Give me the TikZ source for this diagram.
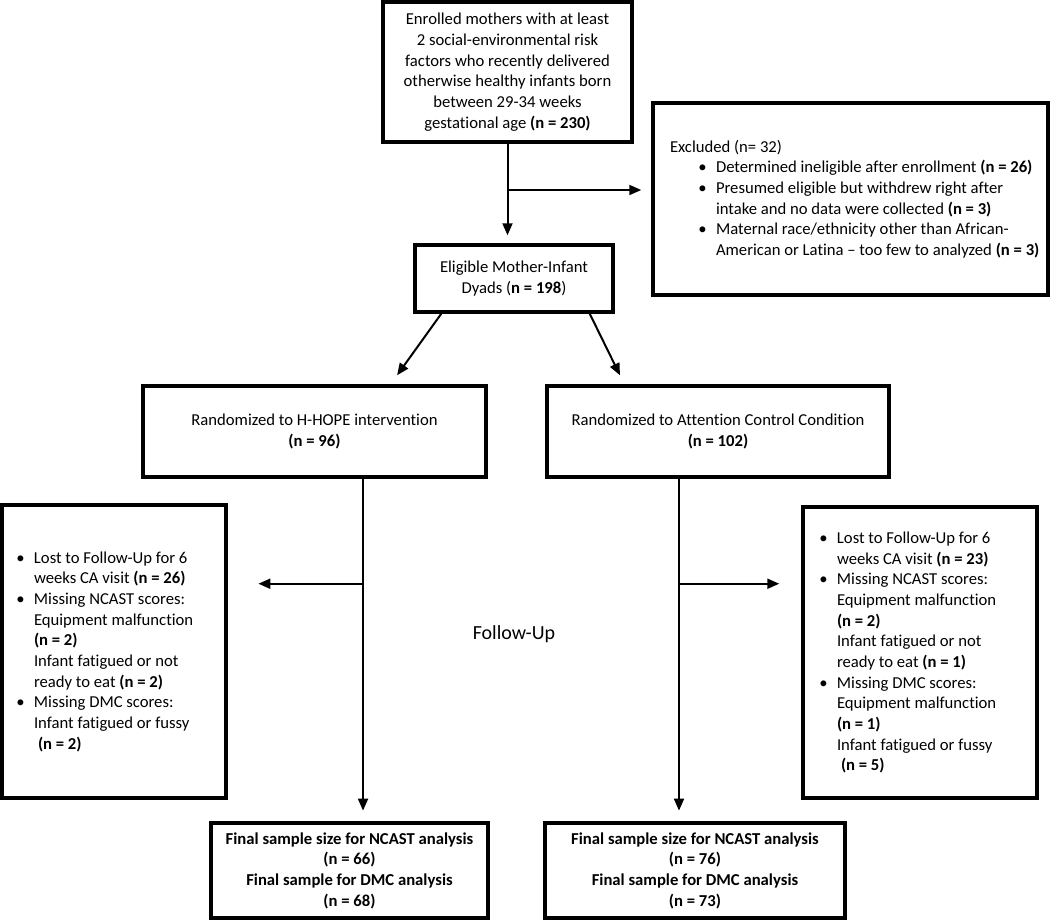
\documentclass[tikz,border=0pt]{standalone}
\usepackage{fontspec}
\setmainfont{Carlito}[Ligatures={TeX,NoCommon}]
\usetikzlibrary{arrows.meta,calc}
\newdimen\PX \PX=0.75pt
\newcommand\bul{\leavevmode\llap{\textbullet\hspace{7pt}}}
\newcommand\plainsp{\spaceskip=0pt\xspaceskip=0pt\rightskip=0pt plus 1fil\relax}
\begin{document}
\begin{tikzpicture}[x=0.75pt,y=-0.75pt,
  box/.style={draw,line width=2.6pt,inner sep=0pt,align=center,font=\fontsize{12.5}{15.5}\selectfont},
  listbox/.style={box,align=left},
  arr/.style={line width=1.5pt,-{Triangle[length=9pt,width=7.5pt]}}]
\fill[white] (0,0) rectangle (1050,923);
\useasboundingbox (0,0) rectangle (1050,923);

\node[box,minimum width=249*0.75pt,minimum height=140*0.75pt] (enroll) at (507.5,72)
 {Enrolled mothers with at least\\2 social-environmental risk\\factors who recently delivered\\otherwise healthy infants born\\between 29-34 weeks\\gestational age \textbf{(n = 230)}};

\node[listbox,minimum width=395*0.75pt,minimum height=192*0.75pt,text width=392*0.75pt] (excl) at (850.5,199)
 {\plainsp
  \hspace*{15.5\PX}Excluded (n= 32)\par
  \leftskip=61.5\PX
  \bul Determined ineligible after enrollment \textbf{(n = 26)}\par
  \bul Presumed eligible but withdrew right after\\intake and no data were collected \textbf{(n = 3)}\par
  \bul Maternal race/ethnicity other than African-\\American or Latina – too few to analyzed \textbf{(n = 3)}\par};

\node[box,minimum width=198*0.75pt,minimum height=67*0.75pt] (elig) at (514,278.5)
 {Eligible Mother-Infant\\Dyads (\textbf{n = 198})};

\node[box,minimum width=343*0.75pt,minimum height=91*0.75pt] (hhope) at (314.5,431.5)
 {Randomized to H-HOPE intervention\\\textbf{(n = 96)}};

\node[box,minimum width=342*0.75pt,minimum height=91*0.75pt] (att) at (718,431.5)
 {Randomized to Attention Control Condition\\\textbf{(n = 102)}};

\node[listbox,minimum width=224*0.75pt,minimum height=293*0.75pt,text width=185*0.75pt] (lost1) at (114,651.5)
 {\plainsp
  \leftskip=12.5\PX
  \bul Lost to Follow-Up for 6\\weeks CA visit \textbf{(n = 26)}\par
  \bul Missing NCAST scores:\\Equipment malfunction\\\textbf{(n = 2)}\\Infant fatigued or not\\ready to eat \textbf{(n = 2)}\par
  \bul Missing DMC scores:\\Infant fatigued or fussy\\\hspace*{4\PX}\textbf{(n = 2)}\par};

\node[listbox,minimum width=234*0.75pt,minimum height=291*0.75pt,text width=191*0.75pt] (lost2) at (920,652.5)
 {\plainsp
  \leftskip=12.5\PX
  \bul Lost to Follow-Up for 6\\weeks CA visit \textbf{(n = 23)}\par
  \bul Missing NCAST scores:\\Equipment malfunction\\\textbf{(n = 2)}\\Infant fatigued or not\\ready to eat \textbf{(n = 1)}\par
  \bul Missing DMC scores:\\Equipment malfunction\\\textbf{(n = 1)}\\Infant fatigued or fussy\\\hspace*{4\PX}\textbf{(n = 5)}\par
  \vspace*{22pt}};

\node[box,minimum width=277*0.75pt,minimum height=95*0.75pt] (fin1) at (349.5,870.5)
 {\textbf{Final sample size for NCAST analysis}\\\textbf{(n = 66)}\\\textbf{Final sample for DMC analysis}\\\textbf{(n = 68)}};

\node[box,minimum width=300*0.75pt,minimum height=95*0.75pt] (fin2) at (695,870.5)
 {\textbf{Final sample size for NCAST analysis}\\\textbf{(n = 76)}\\\textbf{Final sample for DMC analysis}\\\textbf{(n = 73)}};

\node[font=\fontsize{15}{18}\selectfont] (fu) at (514,634) {Follow-Up};

% connectors
\draw[arr,shorten >=6pt] (enroll.south) -- (enroll.south |- elig.north);
\coordinate (j1) at (507.5,190);
\draw[arr,shorten >=7.5pt] (j1) -- (j1 -| excl.west);

\draw[arr,shorten >=8.3pt] ([xshift=21pt]elig.south west) -- ([xshift=57.1pt]hhope.north);
\draw[arr,shorten >=7.5pt] ([xshift=-18.75pt]elig.south east) -- ([xshift=-70.2pt]att.north);

\coordinate (hv) at ([xshift=36.4pt]hhope.south);
\coordinate (av) at ([xshift=-29.25pt]att.south);
\draw[arr,shorten >=8pt] (hv) -- (hv |- fin1.north);
\draw[arr,shorten >=8pt] (av) -- (av |- fin2.north);

\path (hv) ++(0,105) coordinate (j2);
\path (av) ++(0,105) coordinate (j3);
\draw[arr,shorten >=23pt] (j2) -- (j2 -| lost1.east);
\draw[arr,shorten >=16.5pt] (j3) -- (j3 -| lost2.west);
\end{tikzpicture}
\end{document}
